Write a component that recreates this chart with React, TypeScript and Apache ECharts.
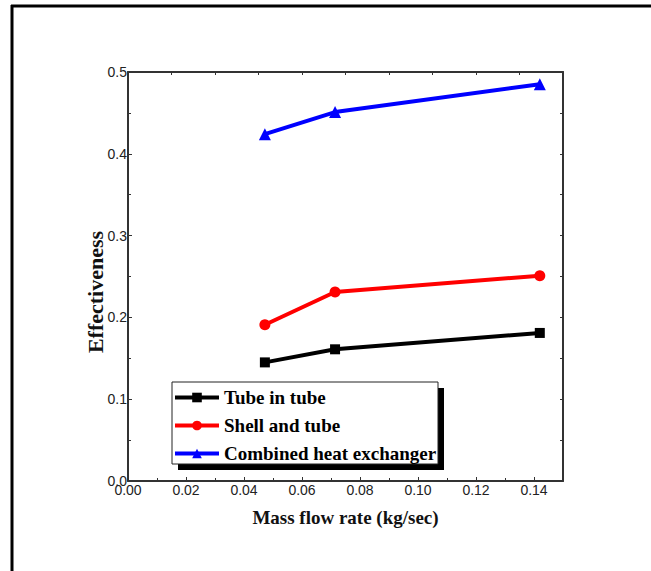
import React, { useEffect, useRef } from "react";
import * as echarts from "echarts";

const massFlow = [0.0472, 0.0714, 0.142];
const tubeInTube = [0.145, 0.161, 0.181];
const shellAndTube = [0.191, 0.231, 0.251];
const combined = [0.424, 0.451, 0.485];
const seriesNames = ["Tube in tube", "Shell and tube", "Combined heat exchanger"];
const yTitle = "Effectiveness";
const xTitle = "Mass flow rate (kg/sec)";

const pairs = (ys: number[]) => massFlow.map((x, i) => [x, ys[i]]);

export default function App() {
  const ref = useRef<HTMLDivElement>(null);
  useEffect(() => {
    document.body.style.margin = "0";
    const chart = echarts.init(ref.current!, null, { renderer: "svg" });
    const axisColor = "#333";
    const serif = "Liberation Serif";
    const sans = "Liberation Sans";
    const mk = (name: string, data: number[], color: string, symbol: string, size: number) => ({
      name,
      type: "line",
      data: pairs(data),
      symbol,
      symbolSize: size,
      lineStyle: { color, width: 4 },
      itemStyle: { color },
      z: 3,
    });
    chart.setOption({
      animation: false,
      backgroundColor: "#fff",
      grid: { left: 128, top: 72, width: 435, height: 409, containLabel: false },
      xAxis: [
        {
          type: "value",
          min: 0,
          max: 0.15,
          interval: 0.02,
          position: "bottom",
          name: xTitle,
          nameLocation: "middle",
          nameGap: 27,
          nameTextStyle: { fontFamily: serif, fontWeight: "bold", fontSize: 19, color: "#111" },
          axisLine: { show: true, onZero: false, lineStyle: { color: axisColor, width: 2 } },
          axisTick: { show: true, inside: true, length: 4, lineStyle: { color: axisColor } },
          minorTick: { show: true, splitNumber: 2, length: 3, lineStyle: { color: axisColor } },
          axisLabel: {
            showMaxLabel: false,
            margin: 2,
            fontFamily: sans,
            fontSize: 14,
            color: "#222",
            formatter: (v: number) => v.toFixed(2),
          },
          splitLine: { show: false },
        },
        {
          type: "value",
          min: 0,
          max: 0.15,
          interval: 0.015,
          position: "top",
          axisLine: { show: true, onZero: false, lineStyle: { color: axisColor, width: 2 } },
          axisTick: { show: true, inside: true, length: 3, lineStyle: { color: axisColor } },
          axisLabel: { show: false },
          splitLine: { show: false },
        },
      ],
      yAxis: [
        {
          type: "value",
          min: 0,
          max: 0.5,
          interval: 0.1,
          position: "left",
          axisLine: { show: true, onZero: false, lineStyle: { color: axisColor, width: 2 } },
          axisTick: { show: true, inside: true, length: 4, lineStyle: { color: axisColor } },
          minorTick: { show: true, splitNumber: 2, length: 3, lineStyle: { color: axisColor } },
          axisLabel: {
            margin: 1,
            fontFamily: sans,
            fontSize: 14,
            color: "#222",
            formatter: (v: number) => v.toFixed(1),
          },
          splitLine: { show: false },
        },
        {
          type: "value",
          min: 0,
          max: 0.5,
          interval: 0.05,
          position: "right",
          axisLine: { show: true, onZero: false, lineStyle: { color: axisColor, width: 2 } },
          axisTick: { show: true, inside: true, length: 3, lineStyle: { color: axisColor } },
          axisLabel: { show: false },
          splitLine: { show: false },
        },
      ],
      legend: {
        data: seriesNames,
        orient: "vertical",
        left: 173,
        top: 388,
        itemWidth: 44,
        itemHeight: 12,
        itemGap: 9,
        padding: 0,
        lineStyle: { width: 4 },
        textStyle: { fontFamily: serif, fontWeight: "bold", fontSize: 19, color: "#000" },
        z: 10,
      },
      graphic: [
        { type: "line", shape: { x1: 12, y1: 5, x2: 12, y2: 571 }, style: { stroke: "#000", lineWidth: 3 }, z: 0 },
        { type: "line", shape: { x1: 11, y1: 6, x2: 651, y2: 6 }, style: { stroke: "#000", lineWidth: 3 }, z: 0 },
        { type: "rect", shape: { x: 178, y: 388, width: 266, height: 82 }, style: { fill: "#000" }, z: 5 },
        { type: "rect", shape: { x: 172, y: 382, width: 266, height: 82 }, style: { fill: "#fff", stroke: "#222", lineWidth: 1 }, z: 6 },
        {
          type: "text",
          x: 95,
          y: 292,
          rotation: Math.PI / 2,
          style: {
            text: yTitle,
            fontFamily: serif,
            fontWeight: "bold",
            fontSize: 22,
            fill: "#111",
            align: "center",
            verticalAlign: "middle",
          },
          z: 10,
        },
      ],
      series: [
        mk(seriesNames[0], tubeInTube, "#000000", "rect", 10),
        mk(seriesNames[1], shellAndTube, "#ff0000", "circle", 11),
        mk(seriesNames[2], combined, "#0000ff", "triangle", 12),
      ],
    });
    return () => chart.dispose();
  }, []);
  return <div ref={ref} style={{ width: 651, height: 571 }} />;
}
